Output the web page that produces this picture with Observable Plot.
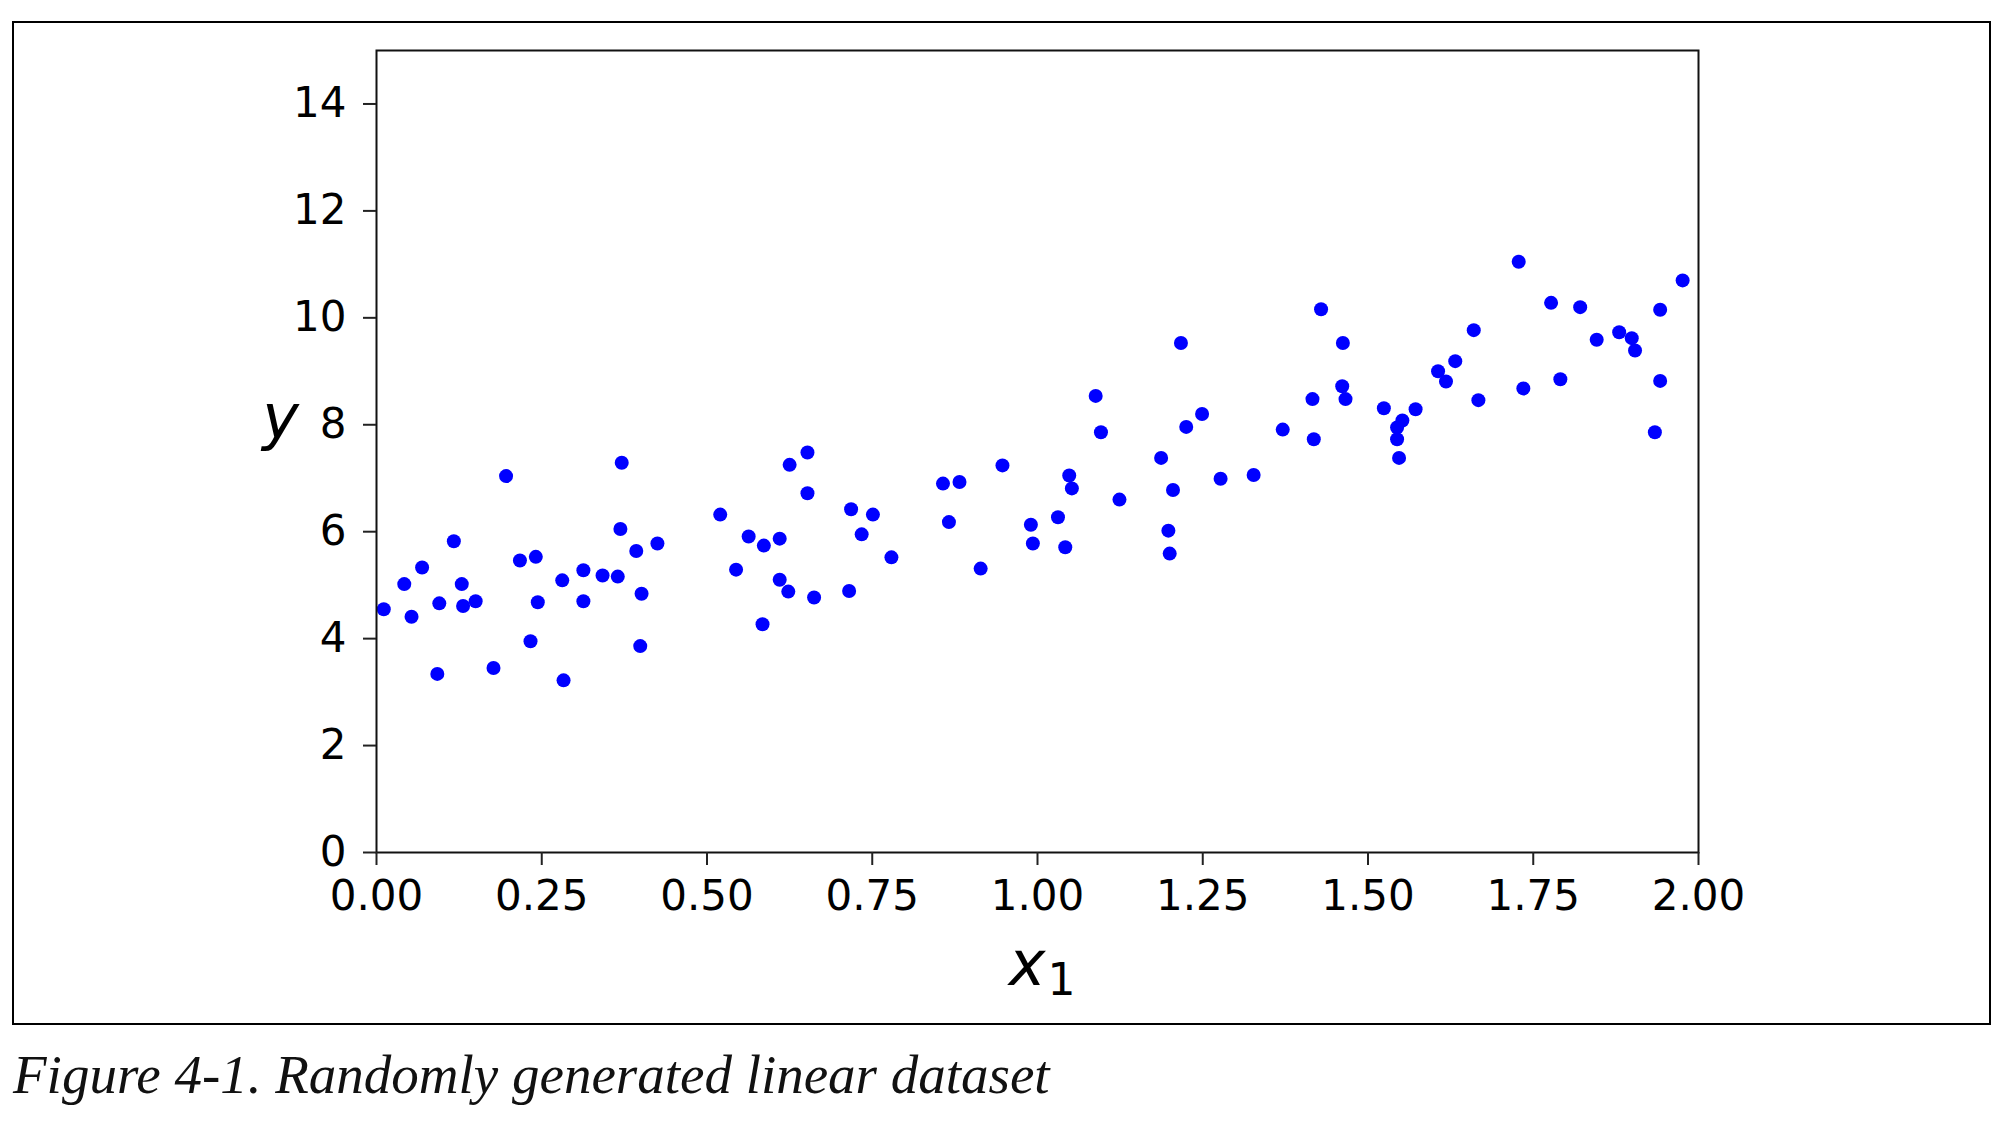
<!DOCTYPE html>
<html>
<head>
<meta charset="utf-8">
<script src="https://cdn.jsdelivr.net/npm/d3@7"></script>
<script src="https://cdn.jsdelivr.net/npm/@observablehq/plot@0.6"></script>
<style>
  html, body { margin: 0; padding: 0; background: #fff; width: 2000px; height: 1146px; overflow: hidden; }
  #wrap { position: relative; width: 2000px; height: 1146px; }
  #chart { position: absolute; left: 0; top: 0; }
  #outer { position: absolute; left: 12px; top: 21px; width: 1979px; height: 1004px; border: 2px solid #000; box-sizing: border-box; pointer-events: none; }
  #caption { position: absolute; left: 13px; top: 1047px; font-family: "Liberation Serif", serif; font-style: italic; font-size: 55px; line-height: 55px; color: #111; white-space: nowrap; }
</style>
</head>
<body>
<div id="wrap">
  <div id="chart"></div>
  <div id="outer"></div>
  <div id="caption">Figure 4-1. Randomly generated linear dataset</div>
</div>
<script>
// x1 values
const x1Values = [
  0.011, 0.042, 0.053, 0.069, 0.095, 0.092, 0.117, 0.129, 0.131, 0.150,
  0.177, 0.196, 0.217, 0.241, 0.233, 0.244, 0.281, 0.283, 0.313, 0.313,
  0.342, 0.365, 0.369, 0.371, 0.393, 0.401, 0.399, 0.425,
  0.520, 0.544, 0.563, 0.586, 0.584, 0.610, 0.610, 0.623, 0.625, 0.652,
  0.652, 0.662, 0.718, 0.715, 0.734, 0.751, 0.779,
  0.857, 0.882, 0.866, 0.914, 0.947, 0.990, 0.993, 1.031, 1.042, 1.048,
  1.052, 1.088, 1.096, 1.124, 1.187, 1.205, 1.198, 1.200, 1.217, 1.225,
  1.249, 1.277, 1.327, 1.371, 1.416, 1.418, 1.429, 1.462, 1.461, 1.466,
  1.524, 1.572, 1.552, 1.544, 1.544, 1.547, 1.606, 1.618, 1.632,
  1.660, 1.667, 1.728, 1.735, 1.777, 1.791, 1.821, 1.846, 1.880, 1.899,
  1.904, 1.934, 1.942, 1.942, 1.976
];
// y values
const yValues = [
  4.55, 5.02, 4.41, 5.33, 4.66, 3.34, 5.82, 5.02, 4.61, 4.70,
  3.45, 7.04, 5.46, 5.53, 3.95, 4.68, 5.09, 3.22, 5.28, 4.70,
  5.18, 5.16, 6.05, 7.29, 5.64, 4.84, 3.86, 5.78,
  6.32, 5.29, 5.91, 5.74, 4.27, 5.87, 5.10, 4.88, 7.25, 7.48,
  6.72, 4.77, 6.42, 4.89, 5.95, 6.32, 5.52,
  6.90, 6.93, 6.18, 5.31, 7.24, 6.13, 5.78, 6.27, 5.71, 7.05,
  6.81, 8.54, 7.86, 6.60, 7.38, 6.78, 6.02, 5.59, 9.53, 7.96,
  8.20, 6.99, 7.06, 7.91, 8.48, 7.73, 10.16, 9.53, 8.72, 8.48,
  8.31, 8.29, 8.08, 7.95, 7.73, 7.38, 9.00, 8.81, 9.19,
  9.77, 8.46, 11.05, 8.68, 10.28, 8.85, 10.20, 9.59, 9.73, 9.62,
  9.39, 7.86, 10.15, 8.82, 10.70
];
const xTicks = [0, 0.25, 0.5, 0.75, 1.0, 1.25, 1.5, 1.75, 2.0];
const yTicks = [0, 2, 4, 6, 8, 10, 12, 14];
const xLabelMain = "x";
const xLabelSub = "1";
const yLabel = "y";

const data = x1Values.map((x, i) => ({x, y: yValues[i]}));

const font = "DejaVu Sans";
const chart = Plot.plot({
  width: 2000,
  height: 1030,
  marginLeft: 376,
  marginRight: 302,
  marginTop: 50,
  marginBottom: 178,
  style: {fontFamily: font, background: "white", color: "#000", overflow: "visible"},
  x: {domain: [0, 2]},
  y: {domain: [0, 15]},
  marks: [
    Plot.dot(data, {x: "x", y: "y", r: 7, fill: "#0000ff", stroke: "none"}),
    Plot.frame({stroke: "#111", strokeWidth: 2}),
    Plot.axisX({ticks: xTicks, tickFormat: d3.format(".2f"), tickSize: 13, tickPadding: 15,
      fontSize: 42, stroke: "#222", strokeWidth: 2, fill: "#000", label: null}),
    Plot.axisY({ticks: yTicks, tickFormat: d3.format("d"), tickSize: 13, tickPadding: 17,
      fontSize: 42, stroke: "#222", strokeWidth: 2, fill: "#000", label: null}),
    Plot.text([yLabel], {frameAnchor: "left", textAnchor: "middle", dx: -96, dy: -14, lineAnchor: "bottom",
      fontSize: 62, fontStyle: "italic", fontFamily: font, fill: "#000", text: d => d}),
    Plot.text([xLabelMain], {frameAnchor: "bottom", textAnchor: "end", dx: 8, dy: 132, lineAnchor: "bottom",
      fontSize: 62, fontStyle: "italic", fontFamily: font, fill: "#000", text: d => d}),
    Plot.text([xLabelSub], {frameAnchor: "bottom", textAnchor: "start", dx: 10, dy: 142, lineAnchor: "bottom",
      fontSize: 44, fontFamily: font, fill: "#000", text: d => d})
  ]
});
document.getElementById("chart").appendChild(chart);
</script>
</body>
</html>
